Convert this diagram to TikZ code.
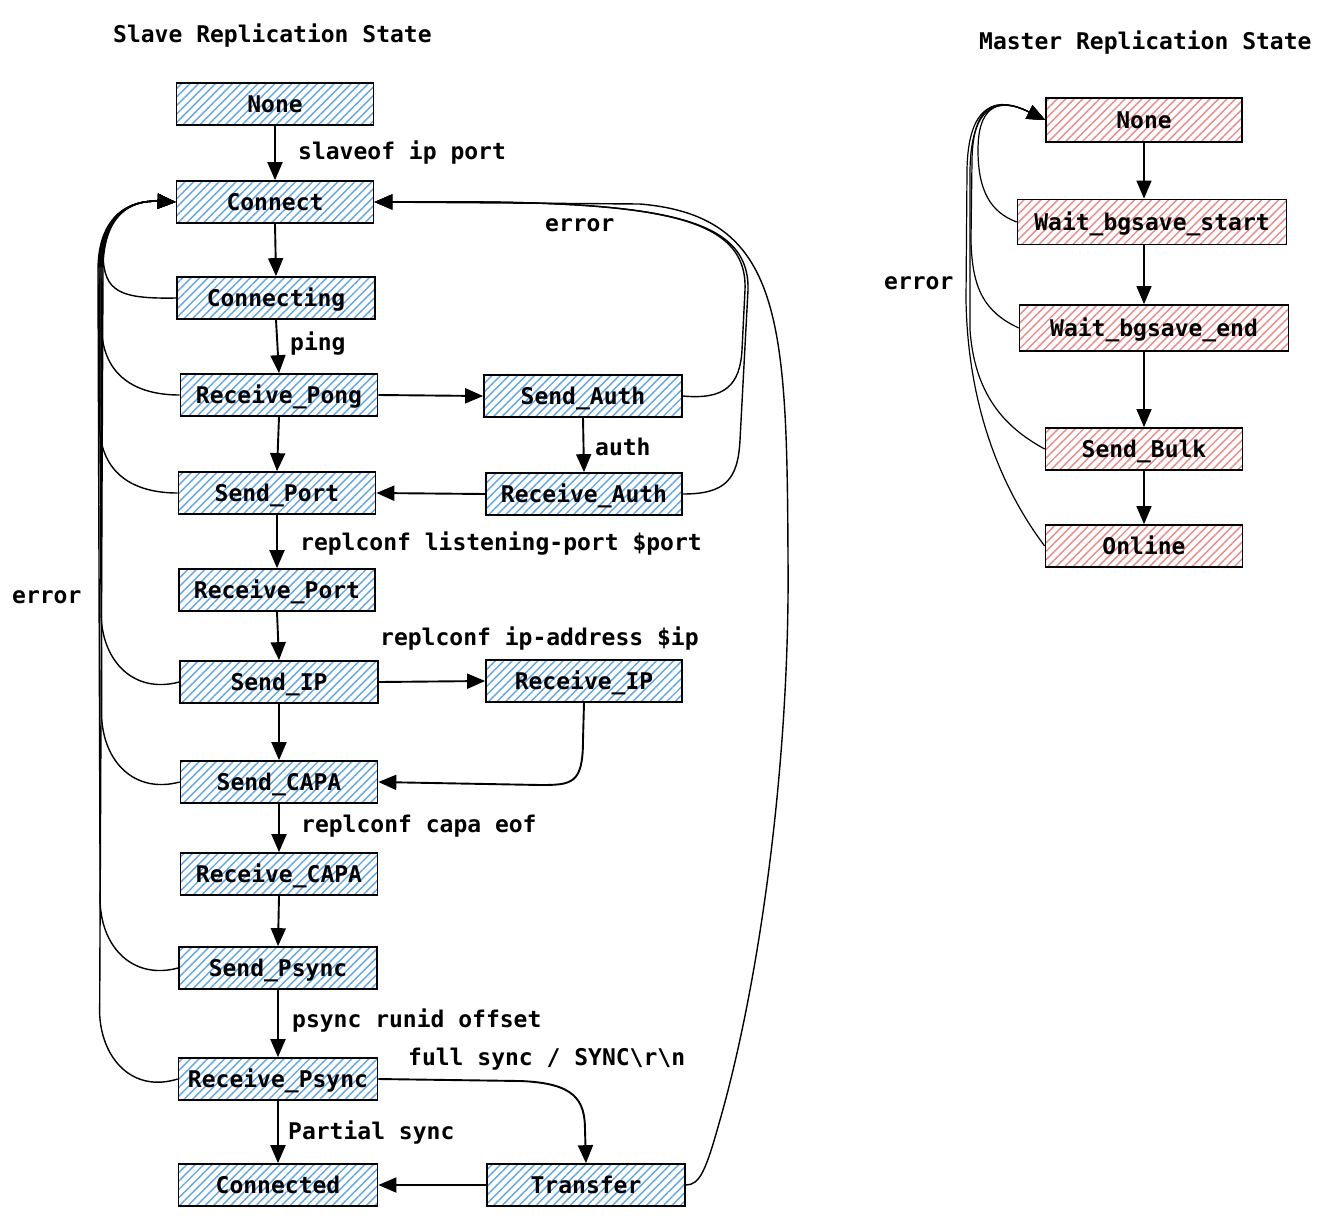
\documentclass[tikz,border=0pt]{standalone}
\usepackage{fontspec}
\setmainfont{DejaVu Sans Mono}
\usetikzlibrary{arrows.meta,patterns.meta}
\definecolor{hblue}{RGB}{95,165,232}
\definecolor{hred}{RGB}{238,135,135}
\begin{document}
\begin{tikzpicture}[x=1pt,y=-1pt,
  font=\fontsize{23}{26}\selectfont\bfseries,
  box/.style={draw=black, line width=1.7pt, inner sep=0pt, minimum height=42pt,
    text height=18pt, text depth=2pt,
    pattern={Lines[angle=45,distance=6pt,line width=1.4pt]}},
  sbox/.style={box, pattern color=hblue},
  mbox/.style={box, pattern color=hred},
  tip/.style={-{Triangle[length=18pt,width=15pt]}},
  arr/.style={line width=1.9pt, tip},
  marr/.style={line width=1.4pt, tip},
  err/.style={line width=1.4pt, tip},
  merr/.style={line width=1.2pt, tip},
  lbl/.style={anchor=west, inner sep=0pt}
]
\fill[white] (0,0) rectangle (1336,1224);
\useasboundingbox (0,0) rectangle (1336,1224);

% titles and labels
\node[lbl] (t1) at (113,36) {Slave Replication State};
\node[lbl] (t2) at (979,43) {Master Replication State};
\node[lbl] (l1) at (298,153) {slaveof ip port};
\node[lbl] (l2) at (545,225) {error};
\node[lbl] (l3) at (290,344) {ping};
\node[lbl] (l4) at (595,447) {auth};
\node[lbl] (l5) at (300,544) {replconf listening-port \$port};
\node[lbl] (l6) at (12,597) {error};
\node[lbl] (l7) at (380,639) {replconf ip-address \$ip};
\node[lbl] (l8) at (301,826) {replconf capa eof};
\node[lbl] (l9) at (292,1021) {psync runid offset};
\node[lbl] (l10) at (408,1059) {full sync / SYNC\textbackslash r\textbackslash n};
\node[lbl] (l11) at (288,1133) {Partial sync};
\node[lbl] (l12) at (884,283) {error};

% slave nodes
\node[sbox, minimum width=197pt] (snone) at (275,104) {None};
\node[sbox, minimum width=197pt] (connect) at (275,202) {Connect};
\node[sbox, minimum width=198pt] (conning) at (276,298) {Connecting};
\node[sbox, minimum width=197pt] (rpong) at (279,395) {Receive\_Pong};
\node[sbox, minimum width=198pt] (sauth) at (583,396) {Send\_Auth};
\node[sbox, minimum width=197pt] (sport) at (277,493) {Send\_Port};
\node[sbox, minimum width=196pt] (rauth) at (584,494) {Receive\_Auth};
\node[sbox, minimum width=196pt] (rport) at (277,590) {Receive\_Port};
\node[sbox, minimum width=198pt] (sip) at (279,682) {Send\_IP};
\node[sbox, minimum width=196pt] (rip) at (584,681) {Receive\_IP};
\node[sbox, minimum width=197pt] (scapa) at (279,782) {Send\_CAPA};
\node[sbox, minimum width=197pt] (rcapa) at (279,874) {Receive\_CAPA};
\node[sbox, minimum width=198pt] (spsync) at (278,968) {Send\_Psync};
\node[sbox, minimum width=199pt] (rpsync) at (278,1079) {Receive\_Psync};
\node[sbox, minimum width=199pt] (cted) at (278,1185) {Connected};
\node[sbox, minimum width=198pt] (transfer) at (586,1185) {Transfer};

% master nodes
\node[mbox, minimum width=196pt, minimum height=44pt] (mnone) at (1144,120) {None};
\node[mbox, minimum width=269pt, minimum height=45pt] (wstart) at (1152,222) {Wait\_bgsave\_start};
\node[mbox, minimum width=269pt, minimum height=46pt] (wend) at (1154,328) {Wait\_bgsave\_end};
\node[mbox, minimum width=197pt] (sbulk) at (1144,449) {Send\_Bulk};
\node[mbox, minimum width=197pt] (online) at (1144,546) {Online};

% slave main arrows
\draw[arr] (snone.south) -- (connect.north);
\draw[arr] (connect.south) -- (conning.north);
\draw[arr] (conning.south) -- (rpong.north);
\draw[arr] (rpong.east) -- (sauth.west);
\draw[arr] (rpong.south) -- (sport.north);
\draw[arr] (sauth.south) -- (rauth.north);
\draw[arr] (rauth.west) -- (sport.east);
\draw[arr] (sport.south) -- (rport.north);
\draw[arr] (rport.south) -- (sip.north);
\draw[arr] (sip.east) -- (rip.west);
\draw[arr] (sip.south) -- (scapa.north);
\draw[arr] (rip.south) -- (583,740) .. controls (583,784) and (572,785) .. (540,785) -- (scapa.east);
\draw[arr] (scapa.south) -- (rcapa.north);
\draw[arr] (rcapa.south) -- (spsync.north);
\draw[arr] (spsync.south) -- (rpsync.north);
\draw[arr] (rpsync.south) -- (cted.north);
\draw[arr] (rpsync.east) -- (520,1081) .. controls (575,1083) and (585,1100) .. (585,1130) -- (transfer.north);
\draw[arr] (transfer.west) -- (cted.east);

% slave error arrows (left)
\draw[err] (conning.west) .. controls (120,299) and (104,292) .. (103,255) .. controls (102,215) and (130,200) .. (connect.west);
\foreach \n/\d/\dip in {rpong/2/0, sport/0/0, sip/-1/12, scapa/1/12, spsync/-2/12, rpsync/3/14} {
  \draw[err] (\n.west) .. controls +(-45,\dip) and +(2,45) .. ++(-78,-65)
    -- ({100+\d},270) .. controls ({100+\d},215) and (130,200) .. (connect.west);
}
% slave error arrows (right)
\draw[err] (sauth.east) .. controls (725,400) and (740,385) .. (742,350) -- (745,290) .. controls (748,212) and (650,200) .. (connect.east);
\draw[err] (rauth.east) .. controls (725,494) and (738,480) .. (740,440) -- (748,290) .. controls (750,212) and (650,200) .. (connect.east);
\draw[err] (transfer.east) .. controls (700,1185) and (706,1170) .. (720,1120) .. controls (760,980) and (790,760) .. (788,560) .. controls (787,320) and (782,216) .. (640,204) -- (connect.east);

% master arrows
\draw[marr] (mnone.south) -- (wstart.north -| mnone.south);
\draw[marr] (wstart.south -| mnone.south) -- (wend.north -| mnone.south);
\draw[marr] (wend.south -| mnone.south) -- (sbulk.north);
\draw[marr] (sbulk.south) -- (online.north);

% master error arrows
\draw[merr] (wstart.west) .. controls (990,212) and (978,190) .. (978,150) .. controls (978,110) and (995,95) .. (mnone.west);
\draw[merr] (wend.west) .. controls (985,312) and (972,290) .. (971,240) -- (972,160) .. controls (973,105) and (995,95) .. (mnone.west);
\draw[merr] (sbulk.west) .. controls (1010,430) and (975,400) .. (970,330) -- (970,170) .. controls (971,108) and (995,95) .. (mnone.west);
\draw[merr] (online.west) .. controls (1010,500) and (968,420) .. (966,300) -- (967,170) .. controls (968,105) and (995,95) .. (mnone.west);
\end{tikzpicture}
\end{document}
